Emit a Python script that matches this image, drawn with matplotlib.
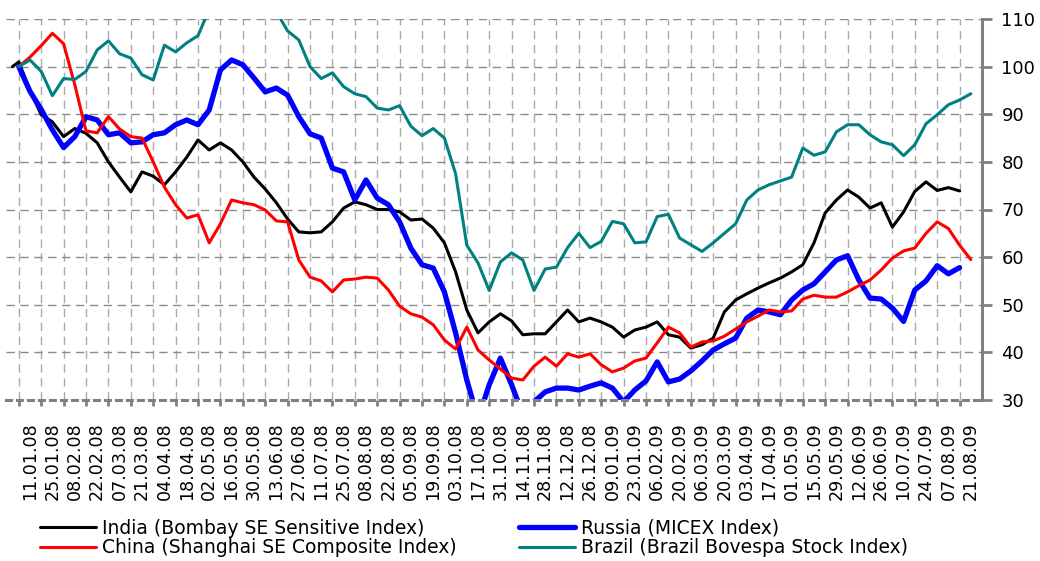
import matplotlib
matplotlib.use("Agg")
import matplotlib.pyplot as plt
import matplotlib.dates as mdates
from matplotlib.ticker import FixedLocator, NullFormatter
import pandas as pd

# ---------------- data ----------------
tick_labels = ["11.01.08", "25.01.08", "08.02.08", "22.02.08", "07.03.08", "21.03.08",
               "04.04.08", "18.04.08", "02.05.08", "16.05.08", "30.05.08", "13.06.08",
               "27.06.08", "11.07.08", "25.07.08", "08.08.08", "22.08.08", "05.09.08",
               "19.09.08", "03.10.08", "17.10.08", "31.10.08", "14.11.08", "28.11.08",
               "12.12.08", "26.12.08", "09.01.09", "23.01.09", "06.02.09", "20.02.09",
               "06.03.09", "20.03.09", "03.04.09", "17.04.09", "01.05.09", "15.05.09",
               "29.05.09", "12.06.09", "26.06.09", "10.07.09", "24.07.09", "07.08.09",
               "21.08.09"]

first_week = "2008-01-04"      # weekly observations (Fridays)
india_start_date = "2007-12-31"
india_start_value = 100.0

india = [101.0, 95.0, 89.9, 88.4, 85.3, 87.0, 86.0, 84.0, 80.0, 76.8,
         73.7, 77.9, 77.0, 75.2, 77.9, 81.0, 84.6, 82.5, 84.0, 82.5,
         80.0, 76.8, 74.3, 71.4, 68.0, 65.3, 65.1, 65.3, 67.4, 70.3,
         71.6, 71.0, 70.0, 70.0, 69.5, 67.8, 68.0, 66.1, 63.0, 56.9,
         48.9, 44.1, 46.4, 48.1, 46.6, 43.7, 43.9, 43.9, 46.4, 48.9,
         46.4, 47.2, 46.4, 45.3, 43.2, 44.7, 45.3, 46.4, 43.7, 43.2,
         40.9, 41.6, 43.0, 48.5, 51.0, 52.3, 53.5, 54.6, 55.6, 56.9,
         58.4, 63.0, 69.3, 72.0, 74.1, 72.6, 70.3, 71.4, 66.3, 69.5,
         73.8, 75.8, 74.0, 74.6, 73.9]

russia = [100.0, 94.8, 91.0, 86.7, 83.0, 85.3, 89.5, 88.8, 85.7, 86.1,
          84.0, 84.2, 85.7, 86.1, 87.8, 88.8, 87.8, 90.9, 99.3, 101.4,
          100.4, 97.6, 94.7, 95.5, 94.0, 89.5, 85.9, 85.0, 78.7, 77.9,
          72.0, 76.2, 72.4, 71.0, 67.4, 61.9, 58.4, 57.7, 52.7, 44.1,
          34.2, 26.0, 33.2, 38.8, 33.2, 27.0, 29.6, 31.7, 32.5, 32.5,
          32.1, 32.9, 33.6, 32.5, 29.6, 32.1, 34.0, 38.0, 33.8, 34.4,
          36.1, 38.2, 40.5, 41.8, 43.0, 47.2, 48.9, 48.5, 47.9, 51.0,
          53.1, 54.4, 56.9, 59.4, 60.3, 55.2, 51.4, 51.2, 49.3, 46.5,
          53.1, 55.0, 58.2, 56.5, 57.8]

china = [100.0, 102.0, 104.4, 107.0, 104.8, 96.2, 86.5, 86.1, 89.5, 86.9,
         85.3, 85.0, 80.0, 74.7, 71.0, 68.2, 68.9, 63.0, 67.0, 72.0,
         71.4, 71.0, 69.9, 67.6, 67.4, 59.4, 55.8, 55.0, 52.7, 55.2,
         55.4, 55.8, 55.6, 53.1, 49.7, 48.1, 47.4, 45.8, 42.6, 40.7,
         45.3, 40.5, 38.4, 36.5, 34.6, 34.2, 37.1, 39.0, 37.1, 39.7,
         39.0, 39.7, 37.4, 35.9, 36.7, 38.2, 38.8, 42.0, 45.3, 44.1,
         41.1, 42.2, 42.4, 43.4, 44.9, 46.4, 47.6, 48.9, 48.5, 48.7,
         51.2, 52.0, 51.6, 51.6, 52.7, 54.0, 55.2, 57.3, 59.8, 61.3,
         61.9, 65.0, 67.4, 66.0, 62.5, 59.5]

brazil = [100.0, 101.4, 99.0, 93.9, 97.5, 97.3, 99.0, 103.5, 105.4, 102.7,
          101.8, 98.3, 97.2, 104.5, 103.1, 105.0, 106.5, 112.0, 115.0, 118.0,
          119.0, 118.0, 115.0, 111.5, 107.5, 105.6, 100.0, 97.5, 98.7, 95.8,
          94.3, 93.7, 91.3, 90.9, 91.8, 87.5, 85.5, 87.0, 85.0, 77.5,
          62.5, 58.8, 53.0, 59.0, 60.9, 59.4, 53.0, 57.5, 57.9, 62.0,
          65.0, 62.0, 63.3, 67.5, 67.0, 63.0, 63.2, 68.5, 69.0, 64.0,
          62.6, 61.2, 63.0, 65.0, 67.0, 72.0, 74.1, 75.2, 76.0, 76.8,
          82.9, 81.4, 82.1, 86.3, 87.8, 87.8, 85.7, 84.2, 83.6, 81.3,
          83.6, 88.0, 89.9, 92.0, 93.0, 94.3]

names = ["India (Bombay SE Sensitive Index)", "Russia (MICEX Index)",
         "China (Shanghai SE Composite Index)", "Brazil (Brazil Bovespa Stock Index)"]
colors = ["#000000", "#0000FF", "#FF0000", "#008080"]

# ---------------- figure ----------------
plt.rcParams["font.family"] = ["DejaVu Sans"]
fig = plt.figure(figsize=(10.4, 5.61), dpi=100)
ax = fig.add_axes([6 / 1040, 1 - 400 / 561, (982 - 6) / 1040, (400 - 19) / 561])

def weekly(n):
    return pd.date_range(first_week, periods=n, freq="7D")

india_dates = [pd.Timestamp(india_start_date)] + list(weekly(len(india)))
india_vals = [india_start_value] + india

series = [
    (india_dates, india_vals, 2.2),
    (weekly(len(russia)), russia, 3.8),
    (weekly(len(china)), china, 2.2),
    (weekly(len(brazil)), brazil, 2.2),
]
handles = []
for (d, v, lw), name, c in zip(series, names, colors):
    h, = ax.plot(d, v, color=c, lw=lw, label=name, solid_joinstyle="round",
                 solid_capstyle="round")
    handles.append(h)

label_dates = pd.to_datetime(tick_labels, format="%d.%m.%y")
between_dates = label_dates - pd.Timedelta(days=7)

ax.set_xlim(label_dates[0] - pd.Timedelta(days=15), label_dates[-1] + pd.Timedelta(days=7))
ax.set_ylim(30, 110)

ax.xaxis.set_major_locator(FixedLocator(mdates.date2num(label_dates)))
ax.set_xticklabels(tick_labels, rotation=90, fontsize=12.6)
ax.xaxis.set_minor_locator(FixedLocator(mdates.date2num(between_dates)))
ax.xaxis.set_minor_formatter(NullFormatter())
ax.tick_params(axis="x", which="major", length=0, pad=16)
ax.tick_params(axis="x", which="minor", length=4, width=2, color="#808080", direction="out")

ax.yaxis.tick_right()
ax.set_yticks(range(30, 111, 10))
ax.tick_params(axis="y", which="major", direction="out", length=7, width=2,
               color="#808080", labelsize=13, pad=7)

ax.grid(which="minor", axis="x", color="#aaaaaa", lw=1.0, ls=(0, (6, 4)))
ax.grid(which="major", axis="y", color="#8c8c8c", lw=1.0, ls=(0, (6, 4)))
ax.grid(which="major", axis="x", visible=False)
ax.set_axisbelow(True)

for s in ["top", "left"]:
    ax.spines[s].set_visible(False)
ax.spines["right"].set_color("#808080")
ax.spines["right"].set_linewidth(2.2)
ax.spines["bottom"].set_color("#808080")
ax.spines["bottom"].set_linewidth(2.2)
ax.spines["bottom"].set_linestyle((0, (1.6, 2.0)))

order = [0, 2, 1, 3]
fig.legend([handles[i] for i in order], [names[i] for i in order],
           loc="upper left", bbox_to_anchor=(40 / 1040, 1 - 519 / 561),
           ncol=2, frameon=False, fontsize=13.5, handlelength=3.0,
           handletextpad=0.32, columnspacing=3.3, labelspacing=0.02,
           borderpad=0, borderaxespad=0)

fig.savefig("out.png", dpi=100)
